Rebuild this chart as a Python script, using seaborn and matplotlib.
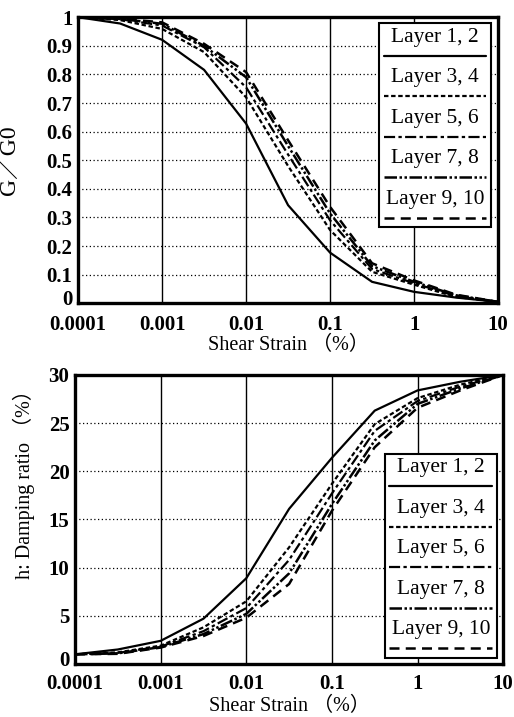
import matplotlib
matplotlib.use("Agg")
import matplotlib.pyplot as plt
from matplotlib.ticker import FixedLocator, NullLocator
from matplotlib.transforms import ScaledTranslation
from matplotlib.lines import Line2D
from matplotlib.offsetbox import AnchoredOffsetbox, VPacker, TextArea, DrawingArea
import seaborn as sns
import pandas as pd

# shear strain (%) at which the curves are given
strain = [0.0001, 0.000316, 0.001, 0.00316, 0.01, 0.0316, 0.1, 0.316, 1, 3.16, 10]
layers = ["Layer 1, 2", "Layer 3, 4", "Layer 5, 6", "Layer 7, 8", "Layer 9, 10"]

# G/G0
g_l12 = [1.0, 0.978, 0.921, 0.816, 0.628, 0.343, 0.177, 0.075, 0.040, 0.020, 0.005]
g_l34 = [1.0, 0.990, 0.959, 0.878, 0.720, 0.480, 0.256, 0.110, 0.065, 0.022, 0.005]
g_l56 = [1.0, 0.993, 0.971, 0.895, 0.755, 0.520, 0.290, 0.120, 0.070, 0.025, 0.005]
g_l78 = [1.0, 0.994, 0.977, 0.900, 0.790, 0.550, 0.314, 0.130, 0.075, 0.028, 0.005]
g_l910 = [1.0, 0.995, 0.982, 0.907, 0.808, 0.570, 0.337, 0.140, 0.080, 0.030, 0.005]

# damping ratio h (%)
d_l12 = [1.0, 1.5, 2.4, 4.7, 8.9, 16.1, 21.4, 26.3, 28.4, 29.3, 30.0]
d_l34 = [1.0, 1.2, 1.9, 3.8, 6.5, 12.1, 18.7, 24.9, 27.6, 29.0, 30.0]
d_l56 = [1.0, 1.15, 1.8, 3.4, 5.8, 10.8, 17.7, 24.2, 27.3, 28.8, 30.0]
d_l78 = [1.0, 1.1, 1.75, 3.1, 5.2, 9.4, 16.6, 23.2, 27.0, 28.6, 30.0]
d_l910 = [1.0, 1.05, 1.7, 2.9, 4.8, 8.3, 15.9, 22.5, 26.6, 28.4, 30.0]

xtick_vals = [0.0001, 0.001, 0.01, 0.1, 1, 10]
xtick_labels = ["0.0001", "0.001", "0.01", "0.1", "1", "10"]

line_styles = ["-", (0, (2, 1.2)), (0, (5, 1.5, 1.5, 1.5)),
               (0, (5, 1, 1, 1, 1, 1)), (0, (4, 2.5))]
line_widths = [1.6, 1.6, 1.6, 1.8, 1.8]

sns.set_theme(style="white")
plt.rcParams["font.family"] = ["Liberation Serif", "Noto Sans CJK JP"]
plt.rcParams["axes.edgecolor"] = "black"

fig = plt.figure(figsize=(5.14, 7.17), dpi=100)
ax1 = fig.add_axes([0.152, 0.577, 0.817, 0.399])
ax2 = fig.add_axes([0.146, 0.074, 0.833, 0.403])


def long_df(series):
    rows = []
    for name, vals in zip(layers, series):
        for s, v in zip(strain, vals):
            rows.append({"strain": s, "value": v, "layer": name})
    return pd.DataFrame(rows)


def draw(ax, df):
    for name, ls, lw in zip(layers, line_styles, line_widths):
        sub = df[df["layer"] == name]
        sns.lineplot(data=sub, x="strain", y="value", color="black",
                     linestyle=ls, linewidth=lw, ax=ax, legend=False,
                     estimator=None, sort=False, zorder=3)


def style_axes(ax, yticks, ylabels, xpad):
    ax.set_xscale("log")
    ax.set_xlim(0.0001, 10)
    ax.xaxis.set_major_locator(FixedLocator(xtick_vals))
    ax.xaxis.set_minor_locator(NullLocator())
    ax.set_xticklabels(xtick_labels)
    ax.set_yticks(yticks)
    ax.set_yticklabels(ylabels)
    ax.set_ylim(yticks[0], yticks[-1])
    ax.tick_params(length=0, labelsize=15, colors="black")
    ax.tick_params(axis="x", pad=xpad)
    ax.tick_params(axis="y", pad=4)
    for lab in ax.get_xticklabels() + ax.get_yticklabels():
        lab.set_fontweight("bold")
    # lift the "0" label a little so it clears the first x label
    zero = ax.get_yticklabels()[0]
    zero.set_transform(zero.get_transform() +
                       ScaledTranslation(0, 4 / 72, fig.dpi_scale_trans))
    ax.grid(axis="x", color="black", linewidth=1.0, linestyle="-")
    ax.grid(axis="y", color="black", linewidth=0.9, linestyle=(0, (1, 2)))
    for sp in ax.spines.values():
        sp.set_linewidth(2.4)
        sp.set_color("black")
    ax.set_xlabel("Shear Strain （%）", fontsize=14.5, color="black")


def add_legend(ax, anchor, loc):
    items = []
    for name, ls, lw in zip(layers, line_styles, line_widths):
        txt = TextArea(name, textprops=dict(fontsize=15.5, color="black"))
        da = DrawingArea(74, 7, 0, 0)
        da.add_artist(Line2D([0, 74], [3.5, 3.5], color="black", linestyle=ls,
                             linewidth=lw))
        items.append(VPacker(children=[txt, da], align="center", pad=0, sep=3))
    box = VPacker(children=items, align="center", pad=0, sep=5.5)
    anc = AnchoredOffsetbox(loc=loc, child=box, pad=0.3, borderpad=0,
                            frameon=True, bbox_to_anchor=anchor,
                            bbox_transform=ax.transAxes)
    anc.patch.set_edgecolor("black")
    anc.patch.set_linewidth(1.5)
    anc.patch.set_facecolor("white")
    anc.patch.set_boxstyle("square", pad=0)
    anc.set_zorder(5)
    ax.add_artist(anc)


draw(ax1, long_df([g_l12, g_l34, g_l56, g_l78, g_l910]))
style_axes(ax1, [round(0.1 * i, 1) for i in range(11)],
           ["0", "0.1", "0.2", "0.3", "0.4", "0.5", "0.6", "0.7", "0.8", "0.9", "1"], 8.5)
ax1.set_ylabel("G／G0", fontsize=17, color="black")
ax1.yaxis.set_label_coords(-0.136, 0.5)
ax1.xaxis.set_label_coords(0.5, -0.115)
add_legend(ax1, (0.983, 0.979), "upper right")

draw(ax2, long_df([d_l12, d_l34, d_l56, d_l78, d_l910]))
style_axes(ax2, [0, 5, 10, 15, 20, 25, 30],
           ["0", "5", "10", "15", "20", "25", "30"], 7)
ax2.set_ylabel("h: Damping ratio （%）", fontsize=14.5, color="black")
ax2.yaxis.set_label_coords(-0.093, 0.637)
ax2.xaxis.set_label_coords(0.5, -0.114)
add_legend(ax2, (0.985, 0.021), "lower right")

fig.savefig("out.png", dpi=100)
